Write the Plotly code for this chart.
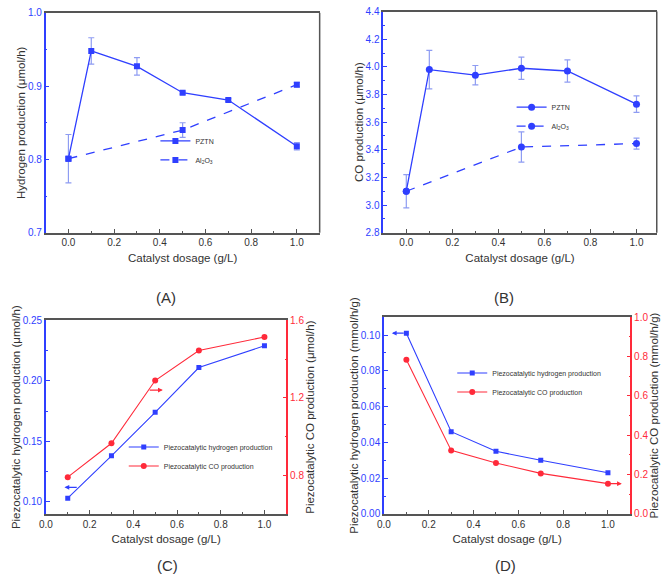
import plotly.graph_objects as go

# ---------------- data ----------------
# Panel A: hydrogen production
a_x_pztn = [0.0, 0.1, 0.3, 0.5, 0.7, 1.0]
a_y_pztn = [0.801, 0.948, 0.927, 0.891, 0.881, 0.818]
a_e_pztn = [0.033, 0.018, 0.012, 0.002, 0.002, 0.005]
a_x_al = [0.0, 0.5, 1.0]
a_y_al = [0.801, 0.840, 0.902]
a_e_al = [0.0, 0.010, 0.003]

# Panel B: CO production
b_x_pztn = [0.0, 0.1, 0.3, 0.5, 0.7, 1.0]
b_y_pztn = [3.10, 3.98, 3.94, 3.99, 3.97, 3.73]
b_e_pztn = [0.12, 0.14, 0.07, 0.08, 0.08, 0.06]
b_x_al = [0.0, 0.5, 1.0]
b_y_al = [3.10, 3.42, 3.445]
b_e_al = [0.0, 0.11, 0.04]

# Panel C: piezocatalytic production (umol/h)
c_x = [0.1, 0.3, 0.5, 0.7, 1.0]
c_h2 = [0.103, 0.138, 0.174, 0.211, 0.229]
c_co = [0.79, 0.965, 1.289, 1.444, 1.514]

# Panel D: piezocatalytic production (mmol/h/g)
d_x = [0.1, 0.3, 0.5, 0.7, 1.0]
d_h2 = [0.101, 0.046, 0.035, 0.030, 0.023]
d_co = [0.783, 0.323, 0.259, 0.206, 0.154]

BLUE = "#2f3fff"
ERR = "#8e9cf2"
RED = "#ff2a3a"
GRAY = "#555555"
TXT = "#333333"
FONT = "Liberation Sans, Arial, sans-serif"

fig = go.Figure()

# ---- A ----
fig.add_trace(go.Scatter(x=a_x_pztn, y=a_y_pztn, mode="lines+markers", name="PZTN",
                         line=dict(color=BLUE, width=1.3), marker=dict(symbol="square", size=6, color=BLUE),
                         error_y=dict(type="data", array=a_e_pztn, color=ERR, thickness=1.2, width=3),
                         xaxis="x", yaxis="y", legend="legend"))
fig.add_trace(go.Scatter(x=a_x_al, y=a_y_al, mode="lines+markers", name="Al<sub>2</sub>O<sub>3</sub>",
                         line=dict(color=BLUE, width=1.3, dash="dash"), marker=dict(symbol="square", size=6, color=BLUE),
                         error_y=dict(type="data", array=a_e_al, color=ERR, thickness=1.2, width=3),
                         xaxis="x", yaxis="y", legend="legend"))
# ---- B ----
fig.add_trace(go.Scatter(x=b_x_pztn, y=b_y_pztn, mode="lines+markers", name="PZTN",
                         line=dict(color=BLUE, width=1.3), marker=dict(symbol="circle", size=7, color=BLUE),
                         error_y=dict(type="data", array=b_e_pztn, color=ERR, thickness=1.2, width=3),
                         xaxis="x2", yaxis="y2", legend="legend2"))
fig.add_trace(go.Scatter(x=b_x_al, y=b_y_al, mode="lines+markers", name="Al<sub>2</sub>O<sub>3</sub>",
                         line=dict(color=BLUE, width=1.3, dash="dash"), marker=dict(symbol="circle", size=7, color=BLUE),
                         error_y=dict(type="data", array=b_e_al, color=ERR, thickness=1.2, width=3),
                         xaxis="x2", yaxis="y2", legend="legend2"))
# ---- C ----
fig.add_trace(go.Scatter(x=c_x, y=c_h2, mode="lines+markers", name="Piezocatalytic hydrogen production",
                         line=dict(color=BLUE, width=1.1), marker=dict(symbol="square", size=5, color=BLUE),
                         xaxis="x3", yaxis="y3", legend="legend3"))
fig.add_trace(go.Scatter(x=c_x, y=c_co, mode="lines+markers", name="Piezocatalytic CO production",
                         line=dict(color=RED, width=1.1), marker=dict(symbol="circle", size=6, color=RED),
                         xaxis="x3", yaxis="y5", legend="legend3"))
# ---- D ----
fig.add_trace(go.Scatter(x=d_x, y=d_h2, mode="lines+markers", name="Piezocatalytic hydrogen production",
                         line=dict(color=BLUE, width=1.1), marker=dict(symbol="square", size=5, color=BLUE),
                         xaxis="x4", yaxis="y4", legend="legend4"))
fig.add_trace(go.Scatter(x=d_x, y=d_co, mode="lines+markers", name="Piezocatalytic CO production",
                         line=dict(color=RED, width=1.1), marker=dict(symbol="circle", size=6, color=RED),
                         xaxis="x4", yaxis="y6", legend="legend4"))

W, H = 662, 579
def dom_x(l, r):
    return [l / W, r / W]
def dom_y(top, bot):
    return [1 - bot / H, 1 - top / H]

tickf = dict(family=FONT, size=10)
def xax(domain, rng, anchor):
    return dict(domain=domain, range=rng, anchor=anchor, dtick=0.2, tick0=0,
                ticks="inside", ticklen=4, tickcolor=GRAY, showline=True, linecolor=GRAY, linewidth=1.5,
                mirror=True, showgrid=False, zeroline=False,
                minor=dict(ticks="inside", ticklen=2, dtick=0.1, tick0=0, tickcolor=GRAY, showgrid=False),
                tickfont=dict(tickf, color=TXT), tickformat=".1f",
                title=dict(text="Catalyst dosage (g/L)", font=dict(family=FONT, size=11.5, color=TXT), standoff=6))

def yax(domain, rng, anchor, dtick, minor, title, fmt, color=BLUE, side="left", overlaying=None):
    d = dict(domain=domain, range=rng, anchor=anchor, dtick=dtick, tick0=0, side=side,
             ticks="inside", ticklen=4, tickcolor=color, showline=True, linecolor=color, linewidth=1.5,
             showgrid=False, zeroline=False, tickformat=fmt,
             minor=dict(ticks="inside", ticklen=2, dtick=minor, tick0=0, tickcolor=color, showgrid=False),
             tickfont=dict(tickf, color=color),
             title=dict(text=title, font=dict(family=FONT, size=11.5, color=TXT), standoff=0))
    if overlaying:
        d["overlaying"] = overlaying
    return d

fig.update_layout(
    width=W, height=H, margin=dict(l=0, r=0, t=0, b=0),
    paper_bgcolor="white", plot_bgcolor="white",
    font=dict(family=FONT, color=TXT),
    xaxis=xax(dom_x(39, 316), [-0.1, 1.1], "y"),
    yaxis=yax(dom_y(7, 231.5), [0.7, 1.0], "x", 0.1, 0.05, "Hydrogen production (μmol/h)", ".1f"),
    xaxis2=xax(dom_x(380.3, 656.7), [-0.1, 1.088], "y2"),
    yaxis2=yax(dom_y(5.7, 231.5), [2.8, 4.4], "x2", 0.2, 0.1, "CO production (μmol/h)", ".1f"),
    xaxis3=xax(dom_x(39.3, 282.3), [0, 1.1], "y3"),
    yaxis3=yax(dom_y(321, 518.7), [0.09, 0.25], "x3", 0.05, 0.025,
               "Piezocatalytic hydrogen production (μmol/h)", ".2f"),
    yaxis5=yax(dom_y(321, 518.7), [0.6, 1.6], "x3", 0.4, 0.2,
               "Piezocatalytic CO production (μmol/h)", ".1f", color=RED, side="right", overlaying="y3"),
    xaxis4=xax(dom_x(381, 630), [0, 1.1], "y4"),
    yaxis4=yax(dom_y(317.7, 518.7), [0, 0.11], "x4", 0.02, 0.01,
               "Piezocatalytic hydrogen production (mmol/h/g)", ".2f"),
    yaxis6=yax(dom_y(317.7, 518.7), [0, 1.0], "x4", 0.2, 0.1,
               "Piezocatalytic CO production (mmol/h/g)", ".1f", color=RED, side="right", overlaying="y4"),
    showlegend=True,
)

legfont = dict(family=FONT, size=7, color=TXT)
leg = dict(bgcolor="rgba(0,0,0,0)", font=legfont, xanchor="left", yanchor="top",
           tracegroupgap=0, itemwidth=30)
fig.update_layout(
    legend=dict(leg, x=150 / W, y=1 - 123 / H),
    legend2=dict(leg, x=510 / W, y=1 - 88.5 / H),
    legend3=dict(leg, x=118 / W, y=1 - 435.5 / H),
    legend4=dict(leg, x=450 / W, y=1 - 360 / H),
)

# right frame lines for A and B
for xr, yr in [("x", "y"), ("x2", "y2")]:
    fig.add_shape(type="line", xref=f"{xr} domain", yref=f"{yr} domain", x0=1, x1=1, y0=0, y1=1,
                  line=dict(color=GRAY, width=1.5))

# direction arrows
arrows = [
    dict(x=0.085, y=0.112, ax=0.148, ay=0.112, xref="x3", yref="y3", c=BLUE),
    dict(x=0.535, y=1.24, ax=0.468, ay=1.24, xref="x3", yref="y5", c=RED),
    dict(x=0.035, y=0.101, ax=0.095, ay=0.101, xref="x4", yref="y4", c=BLUE),
    dict(x=1.062, y=0.154, ax=1.0, ay=0.154, xref="x4", yref="y6", c=RED),
]
for a in arrows:
    fig.add_annotation(x=a["x"], y=a["y"], ax=a["ax"], ay=a["ay"], xref=a["xref"], yref=a["yref"],
                       axref=a["xref"], ayref=a["yref"], showarrow=True, arrowhead=2, arrowsize=0.8,
                       arrowwidth=1.2, arrowcolor=a["c"], text="")

# panel labels
for lab, px, py in [("(A)", 161, 298), ("(B)", 502, 298), ("(C)", 162, 571), ("(D)", 504, 571)]:
    fig.add_annotation(text=lab, x=px / W, y=1 - py / H, xref="paper", yref="paper", showarrow=False,
                       font=dict(family=FONT, size=15, color=TXT), xanchor="center", yanchor="middle")

fig.write_html("out.html")
